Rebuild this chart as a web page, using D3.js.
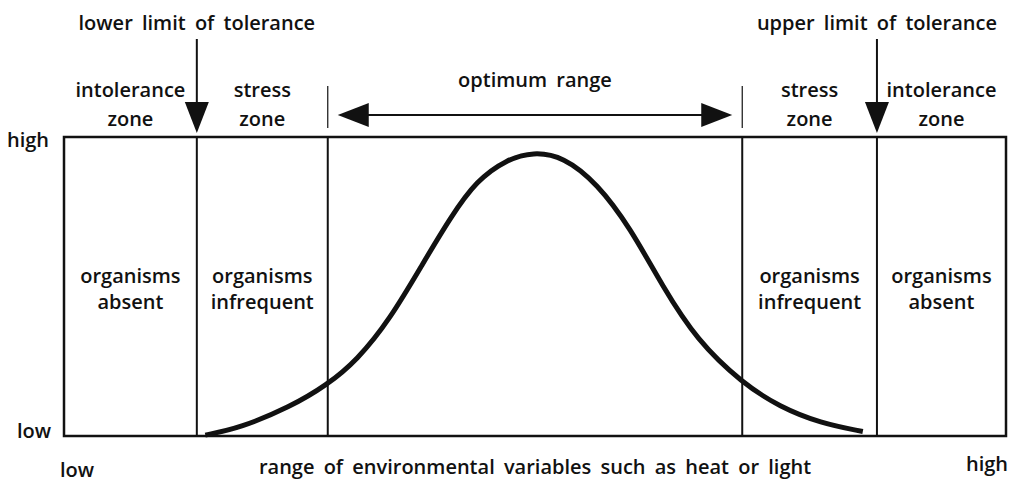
<!DOCTYPE html>
<html>
<head>
<meta charset="utf-8">
<script src="https://cdn.jsdelivr.net/npm/d3@7"></script>
<style>
  body { margin: 0; background: #fff; }
  text { font-family: "Open Sans", sans-serif; font-size: 20px; font-weight: 600; word-spacing: 4px; fill: #111; }
</style>
</head>
<body>
<div id="chart"></div>
<script>
// environmental variable (0-100) and response (0-1)
const curveX = [15.0, 18.7, 24.0, 27.9, 31.1, 34.6, 38.1, 41.0, 43.8, 47.0, 49.8, 53.0, 56.6, 60.1, 63.6, 67.2, 72.0, 76.0, 80.3, 84.8];
const curveY = [0.003, 0.027, 0.097, 0.17, 0.253, 0.39, 0.577, 0.73, 0.855, 0.925, 0.95, 0.935, 0.845, 0.697, 0.497, 0.32, 0.177, 0.097, 0.043, 0.015];

// zone boundaries: lower limit, optimum start, optimum end, upper limit
const bounds = [14.1, 28.0, 72.0, 86.3];
const zoneTop = [["intolerance", "zone"], ["stress", "zone"], null, ["stress", "zone"], ["intolerance", "zone"]];
const zoneInside = [["organisms", "absent"], ["organisms", "infrequent"], null, ["organisms", "infrequent"], ["organisms", "absent"]];
const yTicks = ["low", "high"];

var width = 1010, height = 484;
var margin = {top: 137, right: 4, bottom: 48, left: 64};

var svg = d3.select("#chart").append("svg")
    .attr("width", width)
    .attr("height", height);

var x = d3.scaleLinear().domain([0, 100]).range([margin.left, width - margin.right]);
var y = d3.scaleLinear().domain([0, 1]).range([height - margin.bottom, margin.top]);

// frame
svg.append("rect")
    .attr("x", x(0)).attr("y", y(1))
    .attr("width", x(100) - x(0)).attr("height", y(0) - y(1))
    .attr("fill", "none").attr("stroke", "#111").attr("stroke-width", 2.5);

// zone boundaries
svg.selectAll(".bound")
  .data(bounds)
  .enter().append("line")
    .attr("x1", d => x(d)).attr("x2", d => x(d))
    .attr("y1", y(1)).attr("y2", y(0))
    .attr("stroke", "#111").attr("stroke-width", 2);

// zone centres
var edges = [0].concat(bounds, [100]);
var centres = edges.slice(0, -1).map((d, i) => (d + edges[i + 1]) / 2);

zoneTop.forEach((lines, i) => {
  if (!lines) return;
  svg.append("text").attr("x", x(centres[i])).attr("y", 97).attr("text-anchor", "middle").text(lines[0]);
  svg.append("text").attr("x", x(centres[i])).attr("y", 126).attr("text-anchor", "middle").text(lines[1]);
});

zoneInside.forEach((lines, i) => {
  if (!lines) return;
  svg.append("text").attr("x", x(centres[i])).attr("y", 283).attr("text-anchor", "middle").text(lines[0]);
  svg.append("text").attr("x", x(centres[i])).attr("y", 309).attr("text-anchor", "middle").text(lines[1]);
});

// tolerance limits with downward arrows
var limits = [{v: bounds[0], label: "lower limit of tolerance"}, {v: bounds[3], label: "upper limit of tolerance"}];
limits.forEach(l => {
  var cx = x(l.v);
  svg.append("text").attr("x", cx).attr("y", 30).attr("text-anchor", "middle").text(l.label);
  svg.append("line").attr("x1", cx).attr("x2", cx).attr("y1", 39).attr("y2", 104)
      .attr("stroke", "#111").attr("stroke-width", 2);
  svg.append("path")
      .attr("d", "M" + (cx - 12) + ",102L" + (cx + 12) + ",102L" + cx + ",133Z")
      .attr("fill", "#111");
});

// optimum range double arrow
var oL = x(bounds[1]), oR = x(bounds[2]), ay = 115;
[oL, oR].forEach(px => {
  svg.append("line").attr("x1", px).attr("x2", px).attr("y1", 86).attr("y2", 128)
      .attr("stroke", "#111").attr("stroke-width", 1.2);
});
svg.append("line").attr("x1", oL + 30).attr("x2", oR - 30).attr("y1", ay).attr("y2", ay)
    .attr("stroke", "#111").attr("stroke-width", 2);
svg.append("path").attr("d", "M" + (oL + 10) + "," + ay + "L" + (oL + 41) + "," + (ay - 12) + "L" + (oL + 41) + "," + (ay + 12) + "Z").attr("fill", "#111");
svg.append("path").attr("d", "M" + (oR - 10) + "," + ay + "L" + (oR - 41) + "," + (ay - 12) + "L" + (oR - 41) + "," + (ay + 12) + "Z").attr("fill", "#111");
svg.append("text").attr("x", (oL + oR) / 2).attr("y", 87).attr("text-anchor", "middle").text("optimum range");

// response curve
var pts = curveX.map((d, i) => [d, curveY[i]]);
svg.append("path")
    .datum(pts)
    .attr("fill", "none")
    .attr("stroke", "#111")
    .attr("stroke-width", 5)
    .attr("d", d3.line().x(d => x(d[0])).y(d => y(d[1])).curve(d3.curveBasis));

// y labels
svg.append("text").attr("x", 7).attr("y", y(1) + 10).text(yTicks[1]);
svg.append("text").attr("x", 17).attr("y", y(0) + 2).text(yTicks[0]);

// x labels
svg.append("text").attr("x", 60).attr("y", 477).text("low");
svg.append("text").attr("x", x(50)).attr("y", 474).attr("text-anchor", "middle")
    .text("range of environmental variables such as heat or light");
svg.append("text").attr("x", 1008).attr("y", 471).attr("text-anchor", "end").text("high");
</script>
</body>
</html>
